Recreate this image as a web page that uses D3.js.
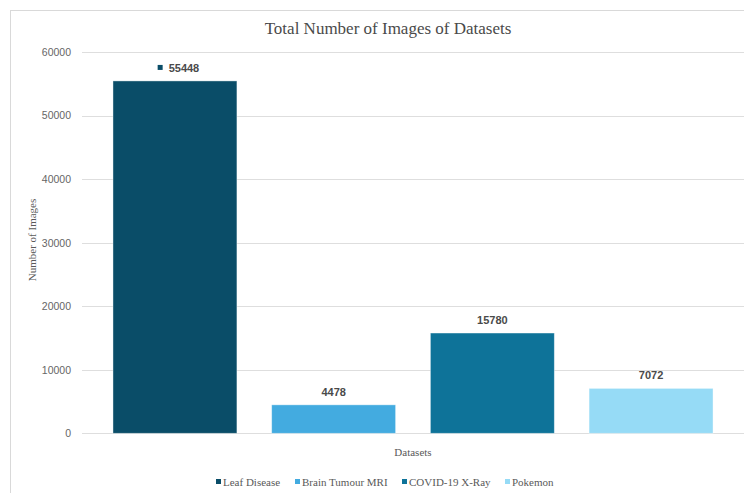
<!DOCTYPE html>
<html>
<head>
<meta charset="utf-8">
<script src="https://cdn.jsdelivr.net/npm/d3@7"></script>
<style>
html,body{margin:0;padding:0;background:#fff;}
svg{display:block;}
</style>
</head>
<body>
<svg id="chart" width="744" height="493"></svg>
<script>
const categories = ["Leaf Disease", "Brain Tumour MRI", "COVID-19 X-Ray", "Pokemon"];
const values = [55448, 4478, 15780, 7072];
const colors = ["#0a4d68", "#43abe0", "#0e7399", "#96dbf6"];
const yTicks = [0, 10000, 20000, 30000, 40000, 50000, 60000];
const title = "Total Number of Images of Datasets";
const xTitle = "Datasets";
const yTitle = "Number of Images";

const svg = d3.select("#chart");
const serif = "'Liberation Serif','Times New Roman',serif";
const sans = "'Liberation Sans',Arial,sans-serif";

// chart frame
svg.append("rect").attr("x", 10.5).attr("y", 10.5).attr("width", 800).attr("height", 490)
  .attr("fill", "#fff").attr("stroke", "#d9d9d9").attr("stroke-width", 1);

const y = d3.scaleLinear().domain([0, 60000]).range([433.3, 52]);
const x = d3.scaleBand().domain(categories).range([95.6, 730.4]).paddingInner(0.219).paddingOuter(0.1095);

// gridlines
svg.append("g").selectAll("line").data(yTicks).join("line")
  .attr("x1", 82).attr("x2", 760)
  .attr("y1", d => Math.round(y(d)) + 0.5).attr("y2", d => Math.round(y(d)) + 0.5)
  .attr("stroke", "#dedede").attr("stroke-width", 1.2);

// y axis labels
const yAxis = d3.axisLeft(y).tickValues(yTicks).tickSize(0).tickPadding(0).tickFormat(d3.format("d"));
const ya = svg.append("g").attr("transform", "translate(71,0)").call(yAxis);
ya.select(".domain").remove();
ya.selectAll("text").attr("font-family", sans).attr("font-size", 10.5).attr("fill", "#666666");

// bars
svg.append("g").selectAll("rect").data(values).join("rect")
  .attr("x", (d, i) => x(categories[i]))
  .attr("y", d => y(d))
  .attr("width", x.bandwidth())
  .attr("height", d => y(0) - y(d))
  .attr("fill", (d, i) => colors[i])
  .attr("stroke", "#ffffff").attr("stroke-opacity", 0.5).attr("stroke-width", 0.8);

// data labels
const lbl = svg.append("g");
values.forEach((v, i) => {
  const cx = x(categories[i]) + x.bandwidth() / 2;
  const ty = y(v) - 9;
  const tx = i === 0 ? cx + 9 : cx;
  const t = lbl.append("text")
    .attr("x", tx).attr("y", ty)
    .attr("text-anchor", "middle")
    .attr("font-family", sans).attr("font-size", 11).attr("font-weight", "bold")
    .attr("fill", "#4a4a4a").text(v);
  if (i === 0) {
    const w = t.node().getComputedTextLength();
    lbl.append("rect").attr("x", tx - w / 2 - 11).attr("y", ty - 7)
      .attr("width", 5).attr("height", 5).attr("fill", colors[0]);
  }
});

// title
svg.append("text").attr("x", 388).attr("y", 34).attr("text-anchor", "middle")
  .attr("font-family", serif).attr("font-size", 17).attr("fill", "#4a4a4a").text(title);

// axis titles
svg.append("text").attr("x", 413).attr("y", 456).attr("text-anchor", "middle")
  .attr("font-family", serif).attr("font-size", 11).attr("fill", "#595959").text(xTitle);
svg.append("text").attr("transform", "translate(36,240) rotate(-90)").attr("text-anchor", "middle")
  .attr("font-family", serif).attr("font-size", 11).attr("fill", "#595959").text(yTitle);

// legend
const legendX = [218, 297, 404, 507];
const lg = svg.append("g");
categories.forEach((c, i) => {
  lg.append("rect").attr("x", legendX[i] - 2).attr("y", 479).attr("width", 5).attr("height", 5).attr("fill", colors[i]);
  lg.append("text").attr("x", legendX[i] + 5).attr("y", 485.5)
    .attr("font-family", serif).attr("font-size", 11).attr("fill", "#595959").text(c);
});
</script>
</body>
</html>
